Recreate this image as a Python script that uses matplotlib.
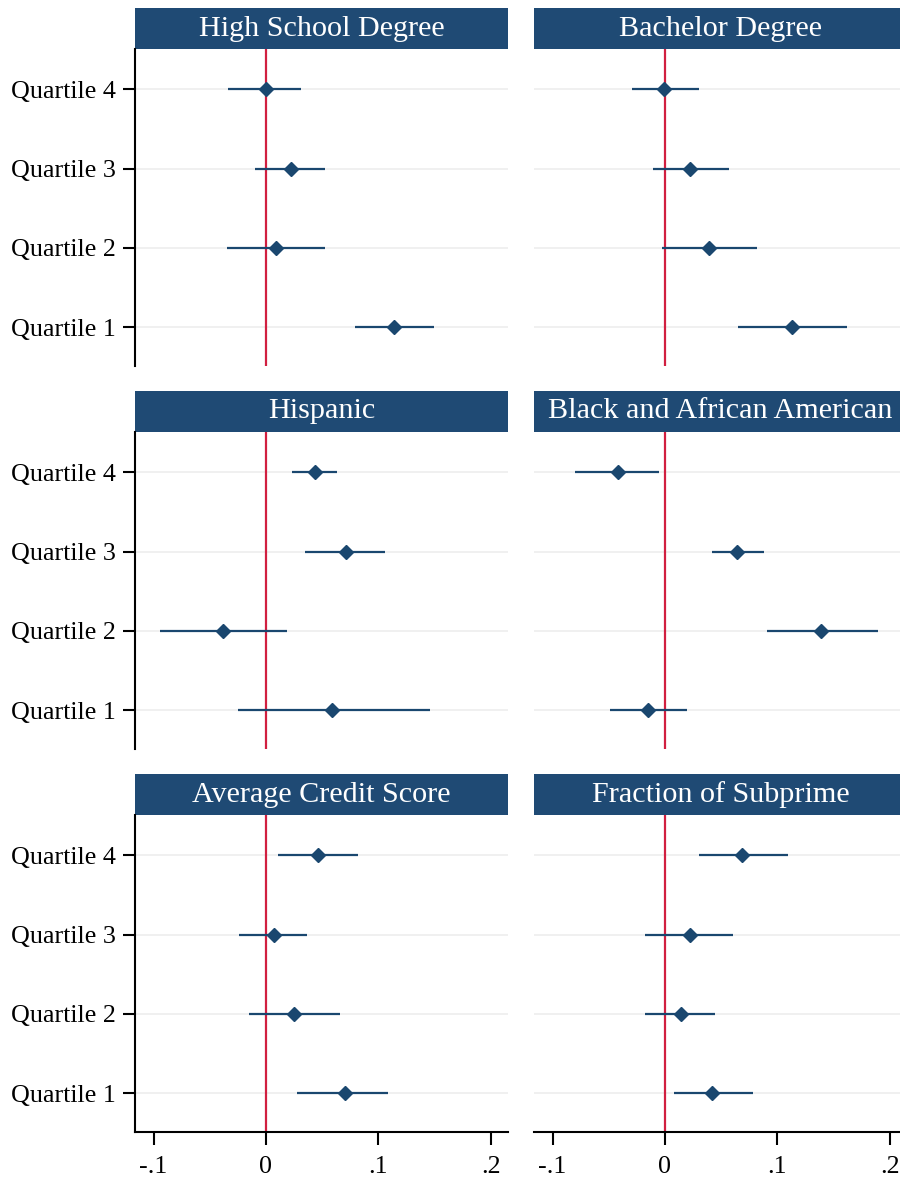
import numpy as np
import matplotlib
matplotlib.use("Agg")
import matplotlib.pyplot as plt
from matplotlib.patches import Rectangle

plt.rcParams['font.family'] = ['Liberation Serif', 'DejaVu Serif']

# quartile positions (1 at bottom, 4 at top)
quartiles = [1, 2, 3, 4]
qlabels = ["Quartile 1", "Quartile 2", "Quartile 3", "Quartile 4"]

titles = ["High School Degree", "Bachelor Degree",
          "Hispanic", "Black and African American",
          "Average Credit Score", "Fraction of Subprime"]

# point estimates and 95% CI, order Q1..Q4
hs_coef = [0.114, 0.009, 0.022, 0.000]
hs_lo = [0.079, -0.035, -0.010, -0.034]
hs_hi = [0.150, 0.053, 0.053, 0.031]

ba_coef = [0.113, 0.039, 0.022, -0.001]
ba_lo = [0.065, -0.003, -0.011, -0.029]
ba_hi = [0.162, 0.082, 0.057, 0.030]

his_coef = [0.059, -0.038, 0.071, 0.044]
his_lo = [-0.025, -0.094, 0.035, 0.023]
his_hi = [0.146, 0.019, 0.106, 0.063]

blk_coef = [-0.015, 0.139, 0.064, -0.042]
blk_lo = [-0.049, 0.091, 0.042, -0.080]
blk_hi = [0.020, 0.190, 0.088, -0.005]

cs_coef = [0.070, 0.025, 0.007, 0.046]
cs_lo = [0.028, -0.015, -0.024, 0.011]
cs_hi = [0.109, 0.066, 0.037, 0.082]

sp_coef = [0.042, 0.014, 0.022, 0.069]
sp_lo = [0.008, -0.018, -0.018, 0.030]
sp_hi = [0.078, 0.045, 0.061, 0.110]

xticks = [-0.1, 0, 0.1, 0.2]
xticklabels = ["-.1", "0", ".1", ".2"]

coefs = [hs_coef, ba_coef, his_coef, blk_coef, cs_coef, sp_coef]
los = [hs_lo, ba_lo, his_lo, blk_lo, cs_lo, sp_lo]
his = [hs_hi, ba_hi, his_hi, blk_hi, cs_hi, sp_hi]

navy = '#1a476f'
boxcol = '#1f4a74'
red = '#d11f40'

W, H = 900, 1180
fig = plt.figure(figsize=(W / 100, H / 100), dpi=100)

col_x = [135, 534]
row_top = [49, 432, 815]
aw, ah = 373, 317
box_h = 41

for i in range(6):
    r, c = i // 2, i % 2
    ax = fig.add_axes([col_x[c] / W, 1 - (row_top[r] + ah) / H, aw / W, ah / H])
    ax.set_xlim(-0.1165, 0.2155)
    ax.set_ylim(0.51, 4.51)

    for q in quartiles:
        ax.axhline(q, color='#eeeeee', lw=1.2, zorder=0)
    ax.axvline(0, color=red, lw=1.6, zorder=1)
    ax.hlines(quartiles, los[i], his[i], color=navy, lw=1.6, zorder=2)
    ax.plot(coefs[i], quartiles, 'D', color=navy, ms=7, zorder=3)

    for s in ['top', 'right']:
        ax.spines[s].set_visible(False)
    ax.spines['left'].set_linewidth(1.5)
    ax.spines['bottom'].set_linewidth(1.5)

    if c == 0:
        ax.set_yticks(quartiles)
        ax.set_yticklabels(qlabels)
        ax.tick_params(axis='y', length=9, width=1.5, pad=5, labelsize=18.7)
    else:
        ax.spines['left'].set_visible(False)
        ax.set_yticks([])

    if r == 2:
        ax.set_xticks(xticks)
        ax.set_xticklabels(xticklabels)
        ax.tick_params(axis='x', length=9, width=1.5, pad=8, labelsize=18.7)
    else:
        ax.spines['bottom'].set_visible(False)
        ax.set_xticks([])

    # title strip above the plot area
    bh = box_h / ah
    ax.add_patch(Rectangle((0, 1), 1, bh, transform=ax.transAxes,
                           facecolor=boxcol, edgecolor='none', clip_on=False))
    ax.text(0.5, 1 + bh / 2, titles[i], transform=ax.transAxes,
            ha='center', va='center', color='white', fontsize=21.7)

fig.savefig("out.png", dpi=100)
